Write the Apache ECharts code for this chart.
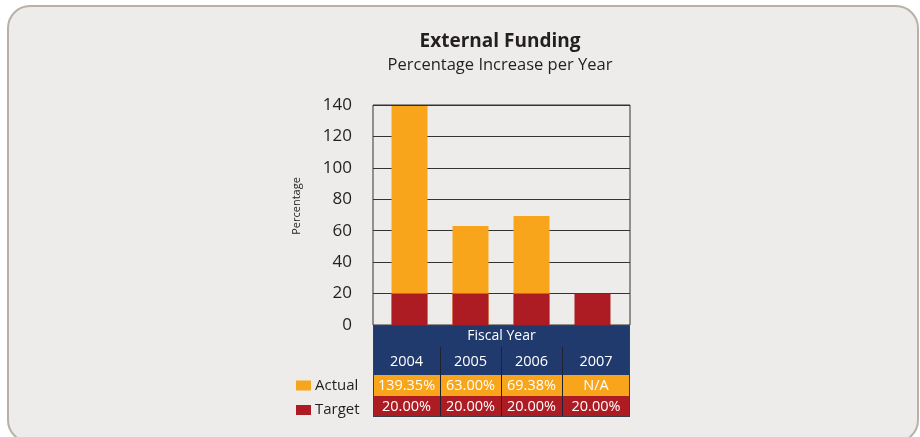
<!DOCTYPE html>
<html><head><meta charset="utf-8">
<script src="https://cdn.jsdelivr.net/npm/echarts@6/dist/echarts.min.js"></script>
<style>html,body{margin:0;padding:0;background:#fff;}#c{width:920px;height:437px;}</style>
</head><body><div id="c"></div>
<script>
var categories = ['2004', '2005', '2006', '2007'];
var actual = [139.35, 63.00, 69.38, null];
var target = [20.00, 20.00, 20.00, 20.00];
var yTicks = [0, 20, 40, 60, 80, 100, 120, 140];

var FONT = '"Open Sans", "Noto Sans", sans-serif';
var COL_ORANGE = '#F9A51C', COL_RED = '#AE1C23', COL_NAVY = '#213A6E';
var G = {left: 373, right: 630, top: 105, bottom: 325};
var BARS = {left: 379, width: 244};

function fmt(v){ return v == null ? 'N/A' : v.toFixed(2) + '%'; }

var chart = echarts.init(document.getElementById('c'), null, {renderer: 'canvas'});

var yBase = {
  type:'value', min:yTicks[0], max:yTicks[yTicks.length-1], interval:20,
  axisLine:{show:false}, axisTick:{show:false}
};

var option = {
  backgroundColor: '#ffffff',
  animation: false,
  title: [
    {text:'External Funding', left:495, top:27, textAlign:'center', textStyle:{fontFamily:FONT, fontSize:19, fontWeight:'bold', color:'#231F20'}},
    {text:'Percentage Increase per Year', left:495, top:52, textAlign:'center', textStyle:{fontFamily:FONT, fontSize:16.5, fontWeight:'normal', color:'#231F20'}}
  ],
  legend: {
    orient:'vertical', left:291, top:373, itemWidth:15, itemHeight:10, itemGap:9.5,
    icon:'rect', selectedMode:false,
    textStyle:{fontFamily:FONT, fontSize:15, color:'#231F20', padding:[0,0,0,-1]},
    data:['Actual','Target']
  },
  grid: [
    {left:G.left, top:G.top, width:G.right-G.left, height:G.bottom-G.top, show:true, borderColor:'#333', borderWidth:1, backgroundColor:'transparent'},
    {left:BARS.left, top:G.top, width:BARS.width, height:G.bottom-G.top, show:false}
  ],
  xAxis: [
    {gridIndex:0, type:'category', data:categories, axisLine:{show:false}, axisTick:{show:false}, axisLabel:{show:false}, splitLine:{show:false}},
    {gridIndex:1, type:'category', data:categories, axisLine:{show:false}, axisTick:{show:false}, axisLabel:{show:false}, splitLine:{show:false}}
  ],
  yAxis: [
    Object.assign({}, yBase, {gridIndex:0,
      axisLabel:{fontFamily:FONT, fontSize:17, color:'#231F20', margin:21},
      splitLine:{lineStyle:{color:'#333', width:1}}}),
    Object.assign({}, yBase, {gridIndex:1, axisLabel:{show:false}, splitLine:{show:false}})
  ],
  series: [
    {name:'Actual', type:'bar', xAxisIndex:1, yAxisIndex:1, data:actual, barWidth:36, itemStyle:{color:COL_ORANGE}, z:2},
    {name:'Target', type:'bar', xAxisIndex:1, yAxisIndex:1, data:target, barWidth:36, barGap:'-100%', itemStyle:{color:COL_RED}, z:3}
  ]
};
chart.setOption(option);

function buildGraphics(){
  var els = [];
  els.push({type:'rect', shape:{x:8, y:6, width:910, height:436, r:22}, style:{fill:'#EDECEA', stroke:'#B9B1A6', lineWidth:2}, z:-10, silent:true});
  els.push({type:'text', x:296.5, y:206, rotation:Math.PI/2, style:{text:'Percentage', fill:'#231F20', font:'11px '+FONT, align:'center', verticalAlign:'middle'}, z:5});
  var n = categories.length;
  var centers = categories.map(function(c){ return chart.convertToPixel({xAxisIndex:1}, c); });
  var bounds = [G.left];
  for (var i=1;i<n;i++) bounds.push((centers[i-1]+centers[i])/2);
  bounds.push(G.right);
  var w = G.right - G.left;
  var rows = [
    {y:325, h:22, fill:COL_NAVY},
    {y:347, h:28, fill:COL_NAVY},
    {y:375, h:21, fill:COL_ORANGE},
    {y:396, h:21, fill:COL_RED}
  ];
  rows.forEach(function(r){
    els.push({type:'rect', shape:{x:G.left, y:r.y, width:w, height:r.h}, style:{fill:r.fill}, z:10});
  });
  els.push({type:'text', x:(G.left+G.right)/2, y:336, style:{text:'Fiscal Year', fill:'#fff', font:'14px '+FONT, align:'center', verticalAlign:'middle'}, z:12});
  for (var i=0;i<n;i++){
    var cx = (bounds[i]+bounds[i+1])/2;
    els.push({type:'text', x:cx, y:362, style:{text:categories[i], fill:'#fff', font:'14.5px '+FONT, align:'center', verticalAlign:'middle'}, z:12});
    els.push({type:'text', x:cx, y:386, style:{text:fmt(actual[i]), fill:'#fff', font:'14.5px '+FONT, align:'center', verticalAlign:'middle'}, z:12});
    els.push({type:'text', x:cx, y:407, style:{text:fmt(target[i]), fill:'#fff', font:'14.5px '+FONT, align:'center', verticalAlign:'middle'}, z:12});
    if (i>0){
      var lx = Math.round(bounds[i]) + 0.5;
      els.push({type:'line', shape:{x1:lx, y1:347, x2:lx, y2:417}, style:{stroke:'#1E2233', lineWidth:1}, z:11});
    }
  }
  els.push({type:'rect', shape:{x:G.left+0.5, y:325.5, width:w-1, height:91}, style:{fill:null, stroke:'#3A3D4A', lineWidth:1}, z:11});
  return els;
}
chart.setOption({graphic: buildGraphics()});
</script></body></html>
